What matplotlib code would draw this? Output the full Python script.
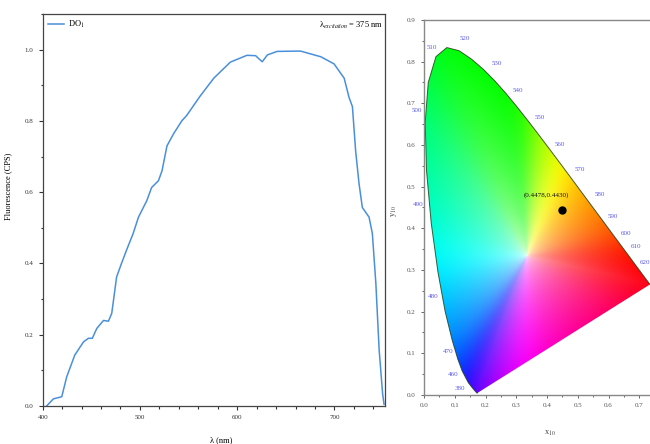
import numpy as np
import matplotlib
matplotlib.use("Agg")
import matplotlib.pyplot as plt
from matplotlib.patches import Polygon
from matplotlib.ticker import MultipleLocator

plt.rcParams['font.family'] = ['Liberation Serif', 'DejaVu Serif']
plt.rcParams['mathtext.fontset'] = 'stix'

# ---- Left panel: emission spectrum ----
wavelength = [404, 411, 419.6, 424.7, 433, 442, 447, 451, 455.7, 462.5, 467.6, 471, 476, 481,
              486.6, 493, 498.5, 507, 512, 519, 522.7, 527.8, 534.6, 543, 548, 562, 576, 593,
              610, 619, 622, 625.8, 631, 641, 665, 686, 699.6, 710, 715, 718.5, 721.8, 725.3,
              728.7, 735.6, 739, 742.6, 746, 749.5, 751]
intensity = [0.0, 0.02, 0.026, 0.082, 0.143, 0.18, 0.19, 0.19, 0.218, 0.24, 0.238, 0.26, 0.362, 0.40,
             0.44, 0.484, 0.53, 0.576, 0.613, 0.632, 0.66, 0.73, 0.764, 0.80, 0.815, 0.87, 0.92, 0.965,
             0.984, 0.983, 0.975, 0.966, 0.985, 0.995, 0.996, 0.98, 0.96, 0.92, 0.866, 0.84, 0.716, 0.624,
             0.557, 0.53, 0.484, 0.344, 0.157, 0.036, 0.005]
series_label = "DO$_1$"
excitation_text = "λ$_{excitation}$ = 375 nm"

# ---- Right panel: CIE chromaticity ----
locus_nm = [380, 400, 420, 440, 450, 460, 470, 475, 480, 485, 490, 495, 500, 505, 510, 515, 520,
            525, 530, 535, 540, 545, 550, 555, 560, 565, 570, 575, 580, 585, 590, 595, 600, 610,
            620, 630, 640, 650, 660, 700]
locus_x = [0.1741, 0.1733, 0.1714, 0.1644, 0.1566, 0.1440, 0.1241, 0.1096, 0.0913, 0.0687, 0.0454,
           0.0235, 0.0082, 0.0039, 0.0139, 0.0389, 0.0743, 0.1142, 0.1547, 0.1929, 0.2296, 0.2658,
           0.3016, 0.3373, 0.3731, 0.4087, 0.4441, 0.4788, 0.5125, 0.5448, 0.5752, 0.6029, 0.6270,
           0.6658, 0.6915, 0.7079, 0.7190, 0.7260, 0.7300, 0.7347]
locus_y = [0.0050, 0.0048, 0.0051, 0.0109, 0.0177, 0.0297, 0.0578, 0.0868, 0.1327, 0.2007, 0.2950,
           0.4127, 0.5384, 0.6548, 0.7502, 0.8120, 0.8338, 0.8262, 0.8059, 0.7816, 0.7543, 0.7243,
           0.6923, 0.6589, 0.6245, 0.5896, 0.5547, 0.5202, 0.4866, 0.4544, 0.4242, 0.3965, 0.3725,
           0.3340, 0.3083, 0.2920, 0.2809, 0.2740, 0.2700, 0.2653]
wl_labels = ["510", "520", "530", "540", "550", "560", "570", "580", "590", "600", "610", "620",
             "500", "490", "480", "470", "460", "380"]
wl_label_x = [0.025, 0.133, 0.236, 0.306, 0.377, 0.442, 0.506, 0.571, 0.615, 0.658, 0.690, 0.718,
              -0.024, -0.018, 0.030, 0.079, 0.095, 0.117]
wl_label_y = [0.835, 0.855, 0.795, 0.731, 0.667, 0.600, 0.540, 0.480, 0.428, 0.388, 0.356, 0.318,
              0.683, 0.456, 0.236, 0.104, 0.048, 0.016]
point_xy = (0.4478, 0.4430)
point_text = "(0.4478,0.4430)"

fig = plt.figure(figsize=(6.5, 4.44), dpi=100)

# Left axes
ax1 = fig.add_axes([0.0657, 0.0856, 0.5266, 0.8829])
ax1.plot(wavelength, intensity, color='#4a8fdc', lw=1.1, label=series_label)
ax1.set_xlim(400, 752)
ax1.set_ylim(0, 1.1)
ax1.set_xticks([400, 500, 600, 700])
ax1.xaxis.set_minor_locator(MultipleLocator(20))
ax1.set_yticks([0.0, 0.2, 0.4, 0.6, 0.8, 1.0])
ax1.yaxis.set_minor_locator(MultipleLocator(0.1))
ax1.tick_params(which='both', direction='out', labelsize=5, width=0.8, colors='#333333')
ax1.tick_params(which='major', length=3)
ax1.tick_params(which='minor', length=1.8)
for s in ax1.spines.values():
    s.set_color('#444444')
    s.set_linewidth(0.9)
ax1.set_xlabel("λ (nm)", fontsize=6)
ax1.xaxis.set_label_coords(0.52, -0.078)
ax1.set_ylabel("Fluorescence (CPS)", fontsize=6)
ax1.yaxis.set_label_coords(-0.09, 0.56)
leg = ax1.legend(loc='upper left', fontsize=6, frameon=False, handlelength=2.0,
                 borderaxespad=0.2, handletextpad=0.4)
ax1.text(0.995, 0.972, excitation_text, transform=ax1.transAxes, ha='right', va='center',
         fontsize=6)

# Right axes
ax2 = fig.add_axes([0.6523, 0.1104, 0.3785, 0.8446])
ax2.set_xlim(0, 0.8)
ax2.set_ylim(0, 0.9)

# colour background: hue from the boundary, saturation growing from the white point
M = np.array([[3.2406, -1.5372, -0.4986],
              [-0.9689, 1.8758, 0.0415],
              [0.0557, -0.2040, 1.0570]])


def xy_to_rgb(x, y):
    X = x / y
    Z = (1 - x - y) / y
    c = np.stack([M[i, 0] * X + M[i, 1] + M[i, 2] * Z for i in range(3)], axis=-1)
    c = np.clip(c, 0, None)
    c = c / np.maximum(c.max(axis=-1, keepdims=True), 1e-9)
    c = np.where(c <= 0.0031308, 12.92 * c, 1.055 * np.power(c, 1 / 2.4) - 0.055)
    return np.clip(c, 0, 1)


lx = np.array(locus_x + [locus_x[0]])
ly = np.array(locus_y + [locus_y[0]])
bx, by = [], []
for i in range(len(lx) - 1):
    t = np.linspace(0, 1, 40, endpoint=False)
    bx.append(lx[i] + (lx[i + 1] - lx[i]) * t)
    by.append(ly[i] + (ly[i + 1] - ly[i]) * t)
bx = np.concatenate(bx)
by = np.concatenate(by)
bcol = xy_to_rgb(bx, by)
wx, wy = 0.3333, 0.3333
bth = np.arctan2(by - wy, bx - wx)
bR = np.hypot(bx - wx, by - wy)
order = np.argsort(bth)
bth, bR, bcol = bth[order], bR[order], bcol[order]
bth = np.concatenate([bth[-1:] - 2 * np.pi, bth, bth[:1] + 2 * np.pi])
bR = np.concatenate([bR[-1:], bR, bR[:1]])
bcol = np.concatenate([bcol[-1:], bcol, bcol[:1]])

# resample on a uniform angle grid and smooth circularly
ang = np.linspace(-np.pi, np.pi, 1440, endpoint=False)
Rang = np.interp(ang, bth, bR)
cang = np.stack([np.interp(ang, bth, bcol[:, k]) for k in range(3)], axis=-1)
sig = 25.0
kx = np.arange(-100, 101)
kern = np.exp(-0.5 * (kx / sig) ** 2)
kern /= kern.sum()
for k in range(3):
    ext = np.concatenate([cang[-100:, k], cang[:, k], cang[:100, k]])
    cang[:, k] = np.convolve(ext, kern, mode='valid')
ang_e = np.concatenate([ang - 2 * np.pi, ang, ang + 2 * np.pi])
R_e = np.concatenate([Rang, Rang, Rang])
c_e = np.concatenate([cang, cang, cang])

gx = np.linspace(0, 0.8, 400)
gy = np.linspace(0, 0.9, 450)
XX, YY = np.meshgrid(gx, gy)
th = np.arctan2(YY - wy, XX - wx)
r = np.hypot(XX - wx, YY - wy)
R = np.interp(th, ang_e, R_e)
s = np.clip(r / R, 0, 1) ** 0.42
rgb = np.empty(XX.shape + (3,))
for k in range(3):
    ck = np.interp(th, ang_e, c_e[:, k])
    rgb[..., k] = (1 - s) + s * ck
rgb = np.clip(rgb, 0, 1)
im = ax2.imshow(rgb, extent=[0, 0.8, 0, 0.9], origin='lower', aspect='auto',
                interpolation='bilinear', zorder=1)
poly = Polygon(np.column_stack([locus_x, locus_y]), closed=True, facecolor='none',
               edgecolor='none', transform=ax2.transData)
ax2.add_patch(poly)
im.set_clip_path(poly)
ax2.plot(locus_x, locus_y, color='#1a3a10', lw=0.7, alpha=0.8, zorder=2)

for t, lxx, lyy in zip(wl_labels, wl_label_x, wl_label_y):
    ax2.text(lxx, lyy, t, color='#5a5ae6', fontsize=5, ha='center', va='center',
             clip_on=False, zorder=3)

ax2.plot([point_xy[0]], [point_xy[1]], 'o', color='black', ms=5, zorder=4)
ax2.text(point_xy[0] - 0.05, point_xy[1] + 0.037, point_text, fontsize=5, ha='center',
         va='center', color='#111111', zorder=4)

ax2.set_xticks(np.arange(0, 0.71, 0.1))
ax2.set_xticklabels(["0.0", "0.1", "0.2", "0.3", "0.4", "0.5", "0.6", "0.7"])
ax2.xaxis.set_minor_locator(MultipleLocator(0.05))
ax2.set_yticks(np.arange(0, 0.91, 0.1))
ax2.set_yticklabels(["0.0", "0.1", "0.2", "0.3", "0.4", "0.5", "0.6", "0.7", "0.8", "0.9"])
ax2.yaxis.set_minor_locator(MultipleLocator(0.05))
ax2.tick_params(which='both', direction='out', labelsize=5, width=0.7, colors='#666666',
                labelcolor='#555555')
ax2.tick_params(which='major', length=2.5)
ax2.tick_params(which='minor', length=1.5)
for s_ in ax2.spines.values():
    s_.set_color('#888888')
    s_.set_linewidth(1.0)
ax2.set_xlabel("x$_{10}$", fontsize=6, color='#444444')
ax2.xaxis.set_label_coords(0.512, -0.09)
ax2.set_ylabel("y$_{10}$", fontsize=6, color='#444444')
ax2.yaxis.set_label_coords(-0.1, 0.49)

fig.savefig("out.png", dpi=100)
